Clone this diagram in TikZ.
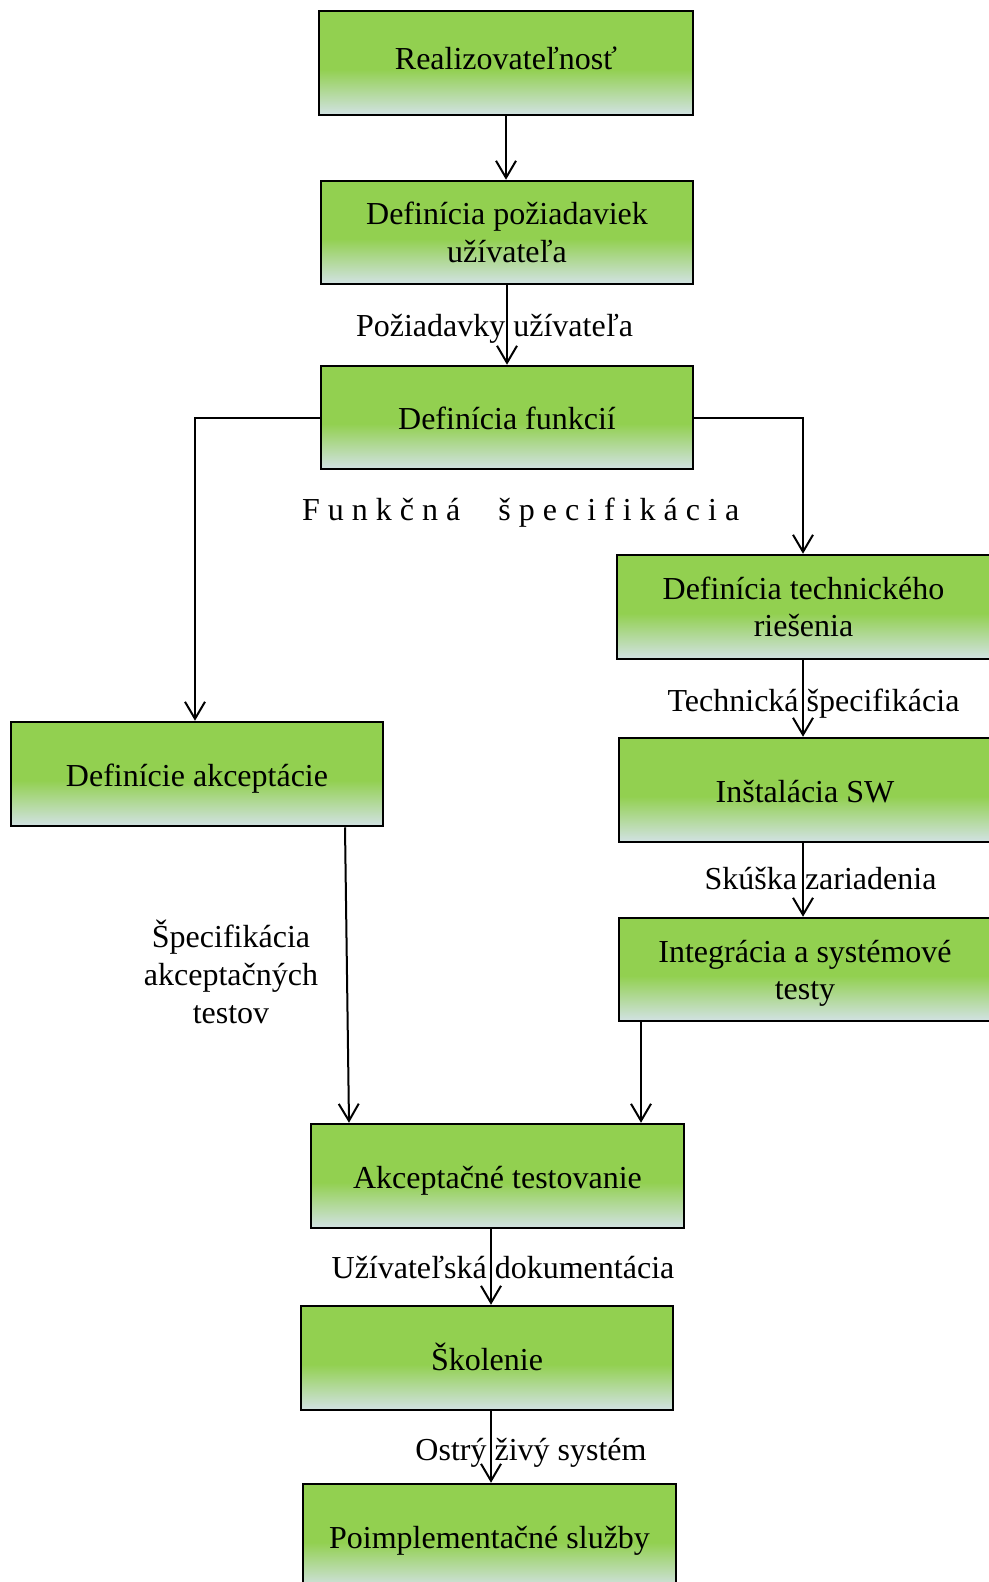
\documentclass[tikz,border=0pt]{standalone}
\usepackage{fontspec}
\setmainfont{Liberation Serif}
\usetikzlibrary{arrows.meta}

\definecolor{boxgreen}{RGB}{146,208,80}
\definecolor{boxgrey}{RGB}{210,226,228}
% green in the upper part, fading to a pale grey-blue at the bottom edge
\pgfdeclareverticalshading{boxfill}{100bp}{color(0bp)=(boxgrey); color(25bp)=(boxgrey); color(47bp)=(boxgreen); color(100bp)=(boxgreen)}

\tikzset{
  stepbox/.style={draw=black, line width=2.5pt, shading=boxfill, rectangle,
    minimum width=372pt, minimum height=104pt, inner sep=0pt, align=center,
    font=\fontsize{32}{37.5}\selectfont},
  oneline/.style={text height=30pt, text depth=6pt},
  lbl/.style={inner sep=0pt, anchor=base, align=center, font=\fontsize{32}{38}\selectfont},
  arr/.style={draw=black, line width=2pt, -{Straight Barb[length=17pt,width=20pt]}}
}

\begin{document}
\begin{tikzpicture}[x=1pt,y=-1pt]
\useasboundingbox (0,0) rectangle (988,1582);
\fill[white] (0,0) rectangle (988,1582);

% process steps
\node[stepbox, minimum width=374pt, text height=22pt, text depth=10pt] (real) at (506,63) {Realizovateľnosť};
\node[stepbox, minimum height=103pt] (poz) at (507,232.5) {Definícia požiadaviek\\užívateľa};
\node[stepbox, oneline, minimum height=103pt] (fun) at (507,417.5) {Definícia funkcií};
\node[stepbox, minimum width=373pt] (tech) at (803.5,607) {Definícia technického\\riešenia};
\node[stepbox, oneline] (akd) at (197,774) {Definície akceptácie};
\node[stepbox, oneline] (inst) at (805,790) {Inštalácia SW};
\node[stepbox, minimum height=103pt] (integ) at (805,969.5) {\rule{0pt}{30pt}Integrácia a systémové\\testy};
\node[stepbox, oneline, minimum width=373pt] (akt) at (497.5,1176) {Akceptačné testovanie};
\node[stepbox, oneline] (skol) at (487,1358) {Školenie};
\node[stepbox, oneline, minimum width=373pt] (poimp) at (489.5,1536) {Poimplementačné služby};

% connectors
\draw[arr] (real.south) -- (real.south |- poz.north);
\draw[arr] (poz.south) -- (poz.south |- fun.north);
\draw[arr] (fun.west) -| ([xshift=-2pt]akd.north);
\draw[arr] (fun.east) -| ([xshift=-0.5pt]tech.north);
\draw[arr] ([xshift=-0.5pt]tech.south) -- ([xshift=-0.5pt]tech.south |- inst.north);
\draw[arr] ([xshift=-2pt]inst.south) -- ([xshift=-2pt]inst.south |- integ.north);
\draw[arr] ([xshift=148pt]akd.south) -- ([xshift=-148.5pt]akt.north);
\draw[arr] ([xshift=-164pt]integ.south) -- ([xshift=-164pt]integ.south |- akt.north);
\draw[arr] ([xshift=-6.5pt]akt.south) -- ([xshift=-6.5pt]akt.south |- skol.north);
\draw[arr] ([xshift=4pt]skol.south) -- ([xshift=4pt]skol.south |- poimp.north);

% flow labels
\node[lbl] (lpoz) at (494.5,336) {Požiadavky užívateľa};
\node[lbl, anchor=base west, font=\fontsize{32}{38}\selectfont\addfontfeature{LetterSpace=25}] (lfun) at (302,520) {Funkčná\ \hspace{6pt}\ špecifikácia};
\node[lbl] (ltech) at (813.5,711) {Technická špecifikácia};
\node[lbl] (lsk) at (820.5,889) {Skúška zariadenia};
\node[lbl, anchor=north] (lakc) at (231,920) {Špecifikácia\\akceptačných\\testov};
\node[lbl] (ldok) at (503,1278) {Užívateľská dokumentácia};
\node[lbl] (lost) at (531,1460) {Ostrý živý systém};
\end{tikzpicture}
\end{document}
